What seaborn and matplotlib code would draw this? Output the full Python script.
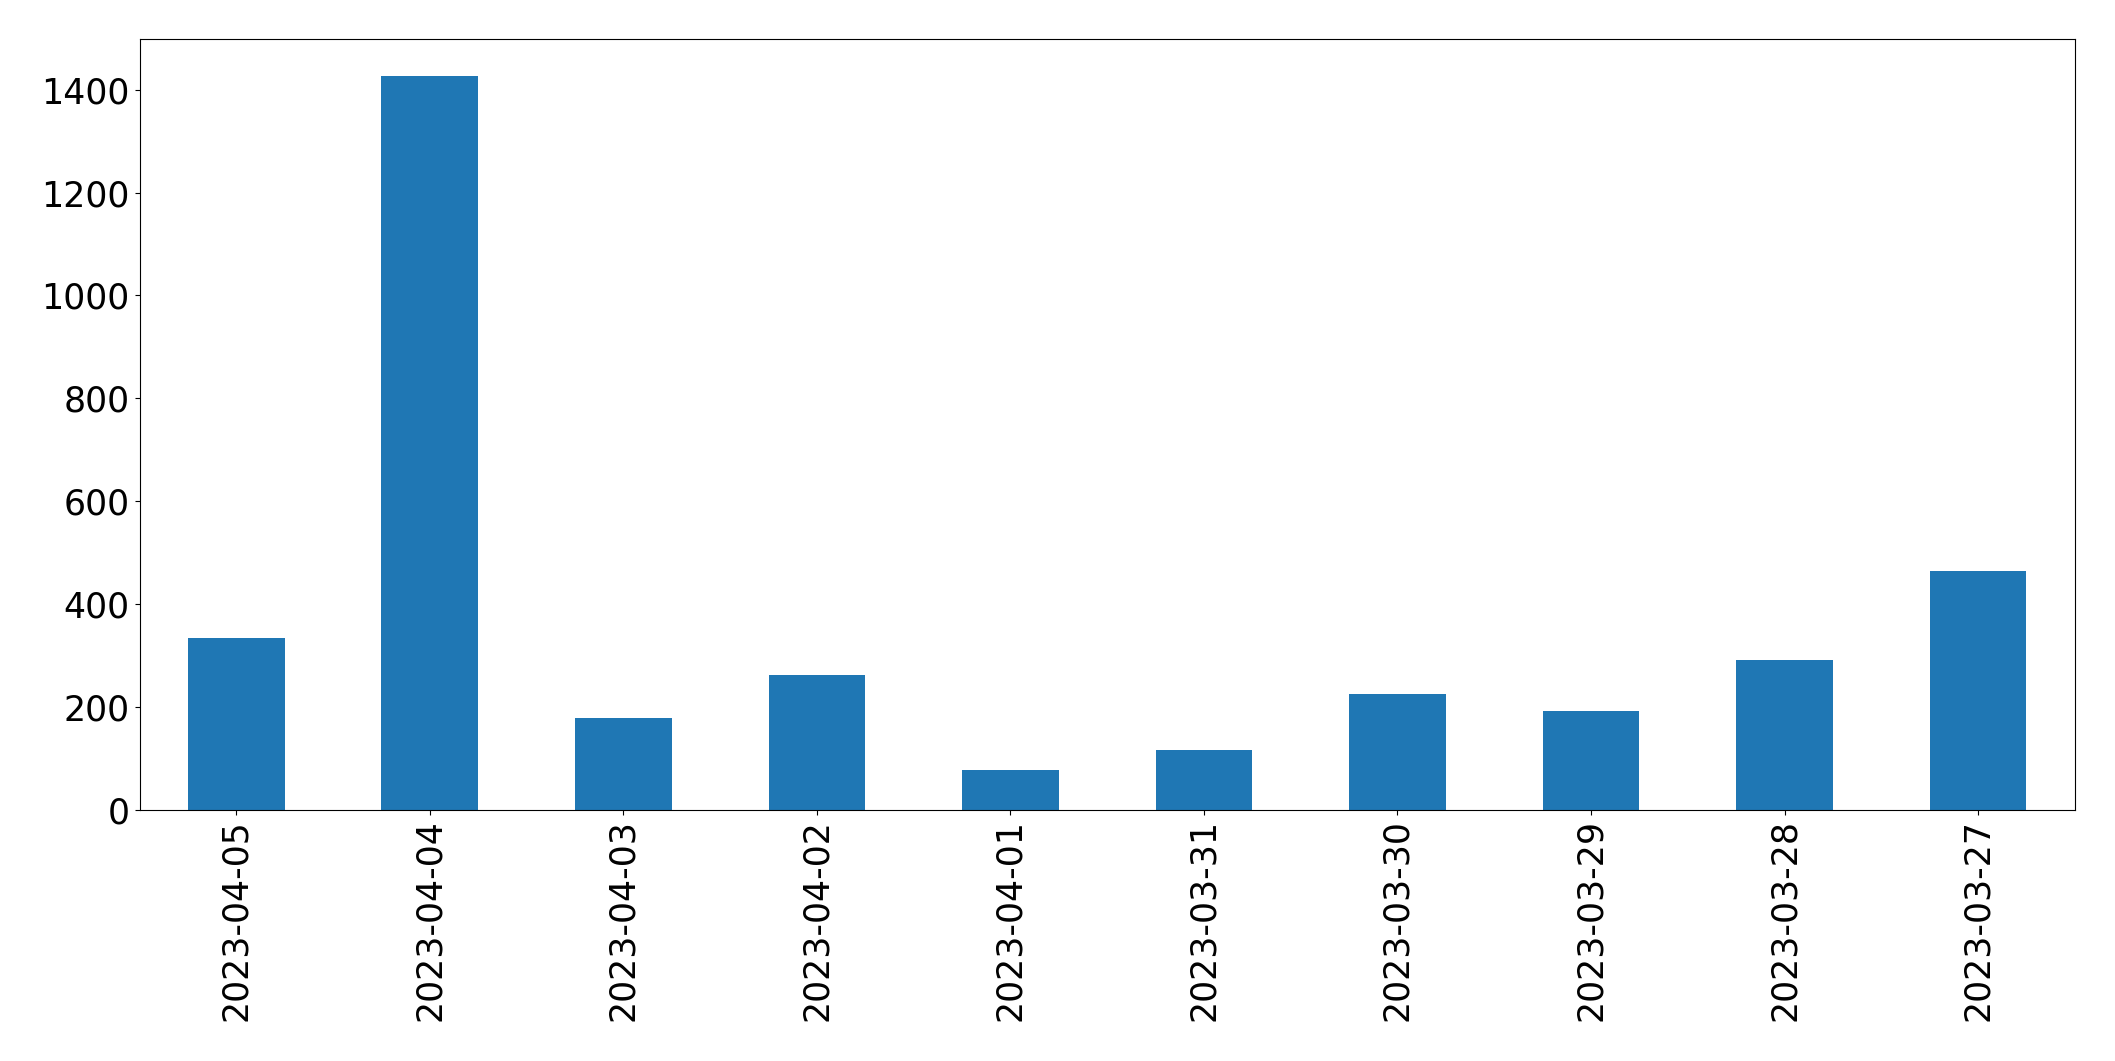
import matplotlib
matplotlib.use("Agg")
import matplotlib.pyplot as plt
import pandas as pd
import seaborn as sns

dates = [
    "2023-04-05", "2023-04-04", "2023-04-03", "2023-04-02", "2023-04-01",
    "2023-03-31", "2023-03-30", "2023-03-29", "2023-03-28", "2023-03-27",
]
counts = [333, 1427, 178, 262, 76, 115, 225, 191, 290, 464]

df = pd.DataFrame({"date": dates, "count": counts})

fig, ax = plt.subplots(figsize=(21.15, 10.61), dpi=100)
fig.subplots_adjust(left=0.066, right=0.981, bottom=0.237, top=0.963)
sns.barplot(data=df, x="date", y="count", color="#1f77b4", saturation=1,
            width=0.5, ax=ax)
ax.set_xlim(-0.5, len(dates) - 0.5)
ax.set_xlabel("")
ax.set_ylabel("")
ax.tick_params(axis="x", labelrotation=90, labelsize=25)
ax.tick_params(axis="y", labelsize=25)
fig.savefig("out.png", dpi=100)
plt.close(fig)
